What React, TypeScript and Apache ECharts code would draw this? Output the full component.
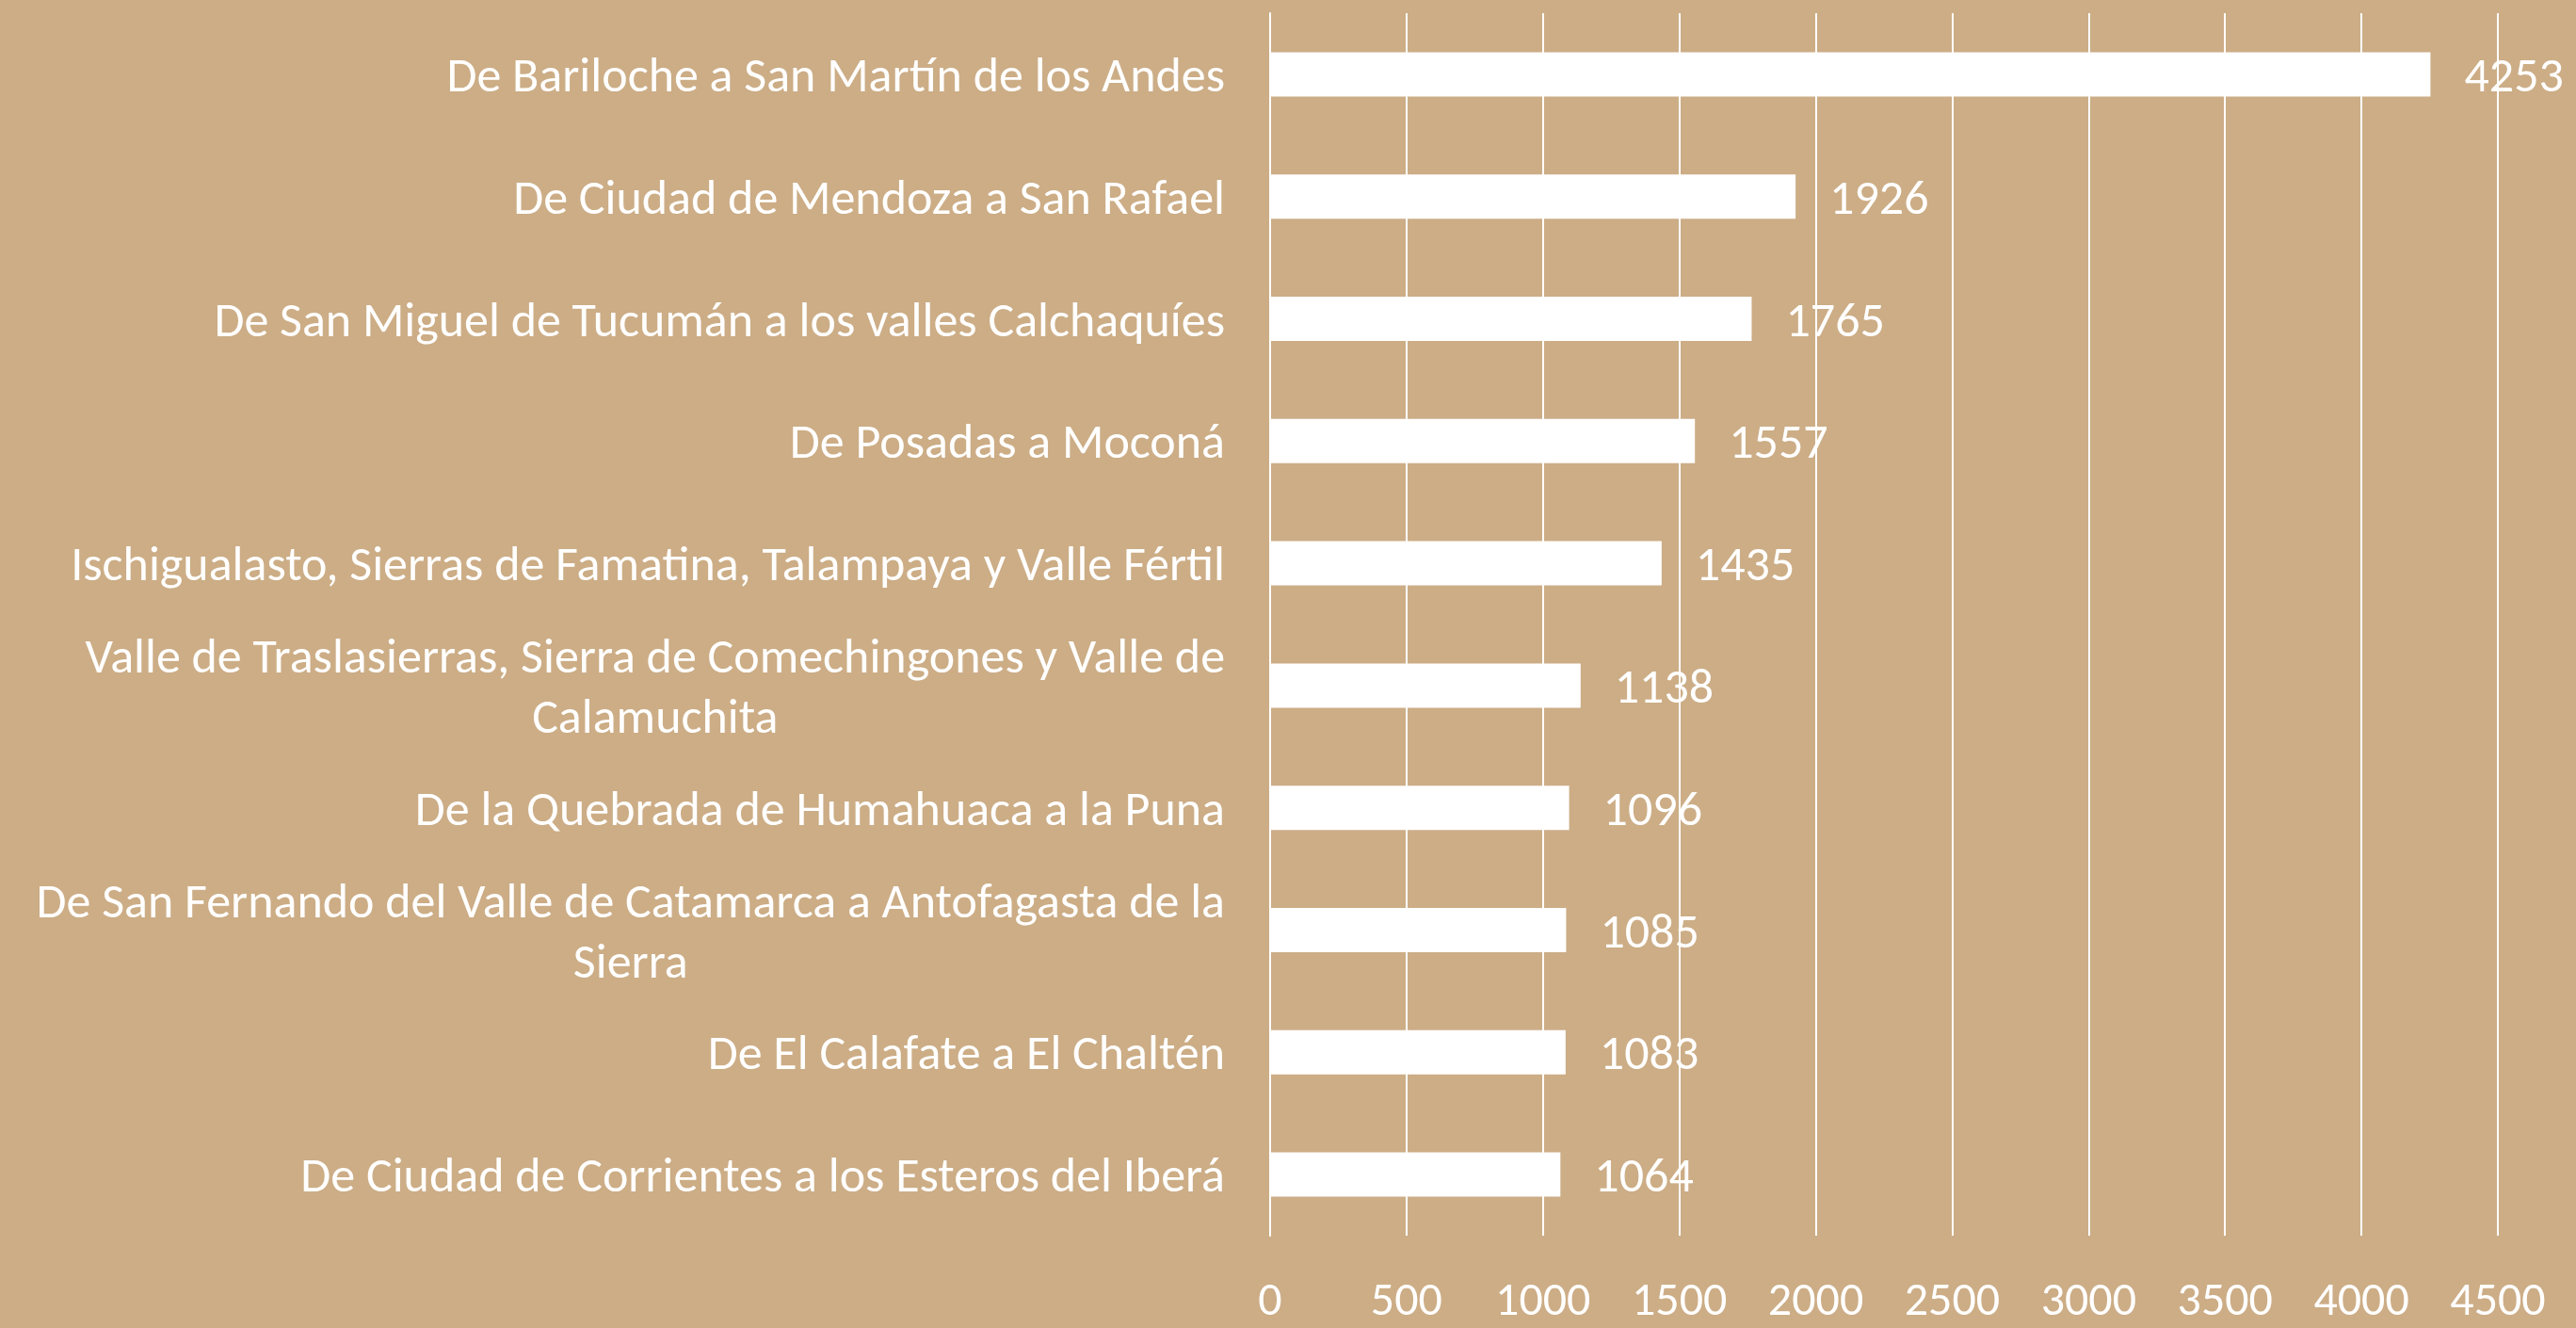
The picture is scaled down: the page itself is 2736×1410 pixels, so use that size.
import React, { useEffect, useRef } from "react";
import * as echarts from "echarts";

const categories: string[] = [
  "De Bariloche a San Martín de los Andes",
  "De Ciudad de Mendoza a San Rafael",
  "De San Miguel de Tucumán a los valles Calchaquíes",
  "De Posadas a Moconá",
  "Ischigualasto, Sierras de Famatina, Talampaya y Valle Fértil",
  "Valle de Traslasierras, Sierra de Comechingones y Valle de\nCalamuchita",
  "De la Quebrada de Humahuaca a la Puna",
  "De San Fernando del Valle de Catamarca a Antofagasta de la\nSierra",
  "De El Calafate a El Chaltén",
  "De Ciudad de Corrientes a los Esteros del Iberá",
];

const values: number[] = [4253, 1926, 1765, 1557, 1435, 1138, 1096, 1085, 1083, 1064];

const axisMin = 0;
const axisMax = 4500;
const axisStep = 500;

const FONT = "'Liberation Sans Narrow', Carlito, Calibri, 'Open Sans', sans-serif";
const BG = "#CCAD86";

export default function App() {
  const ref = useRef<HTMLDivElement>(null);

  useEffect(() => {
    document.body.style.margin = "0";
    if (!ref.current) return;
    const chart = echarts.init(ref.current, undefined, { renderer: "svg" });
    chart.setOption({
      animation: false,
      backgroundColor: BG,
      textStyle: { fontFamily: FONT },
      grid: { left: 1349, right: 83, top: 14, bottom: 98, containLabel: false },
      xAxis: {
        type: "value",
        min: axisMin,
        max: axisMax,
        interval: axisStep,
        axisLine: { show: false },
        axisTick: { show: false },
        splitLine: { show: true, lineStyle: { color: "#FFFFFF", width: 2 } },
        axisLabel: {
          color: "#FFFFFF",
          fontSize: 50,
          fontFamily: FONT,
          margin: 41,
          lineHeight: 50,
          formatter: (v: number) => String(v),
        },
      },
      yAxis: {
        type: "category",
        inverse: true,
        data: categories,
        axisLine: { show: true, lineStyle: { color: "#FFFFFF", width: 2 } },
        axisTick: { show: false },
        axisLabel: {
          color: "#FFFFFF",
          fontSize: 52,
          fontFamily: FONT,
          margin: 48,
          formatter: (v: string) => v.split("\n").map((l) => `{c|${l}}`).join("\n"),
          rich: {
            c: { align: "center", color: "#FFFFFF", fontSize: 52, fontFamily: FONT, lineHeight: 64 },
          },
        },
      },
      series: [
        {
          type: "bar",
          data: values,
          barWidth: 47,
          itemStyle: { color: "#FFFFFF" },
          label: {
            show: true,
            position: "right",
            distance: 36,
            color: "#FFFFFF",
            fontSize: 52,
            fontFamily: FONT,
          },
        },
      ],
    });
    return () => chart.dispose();
  }, []);

  return <div ref={ref} style={{ width: 2736, height: 1410 }} />;
}
